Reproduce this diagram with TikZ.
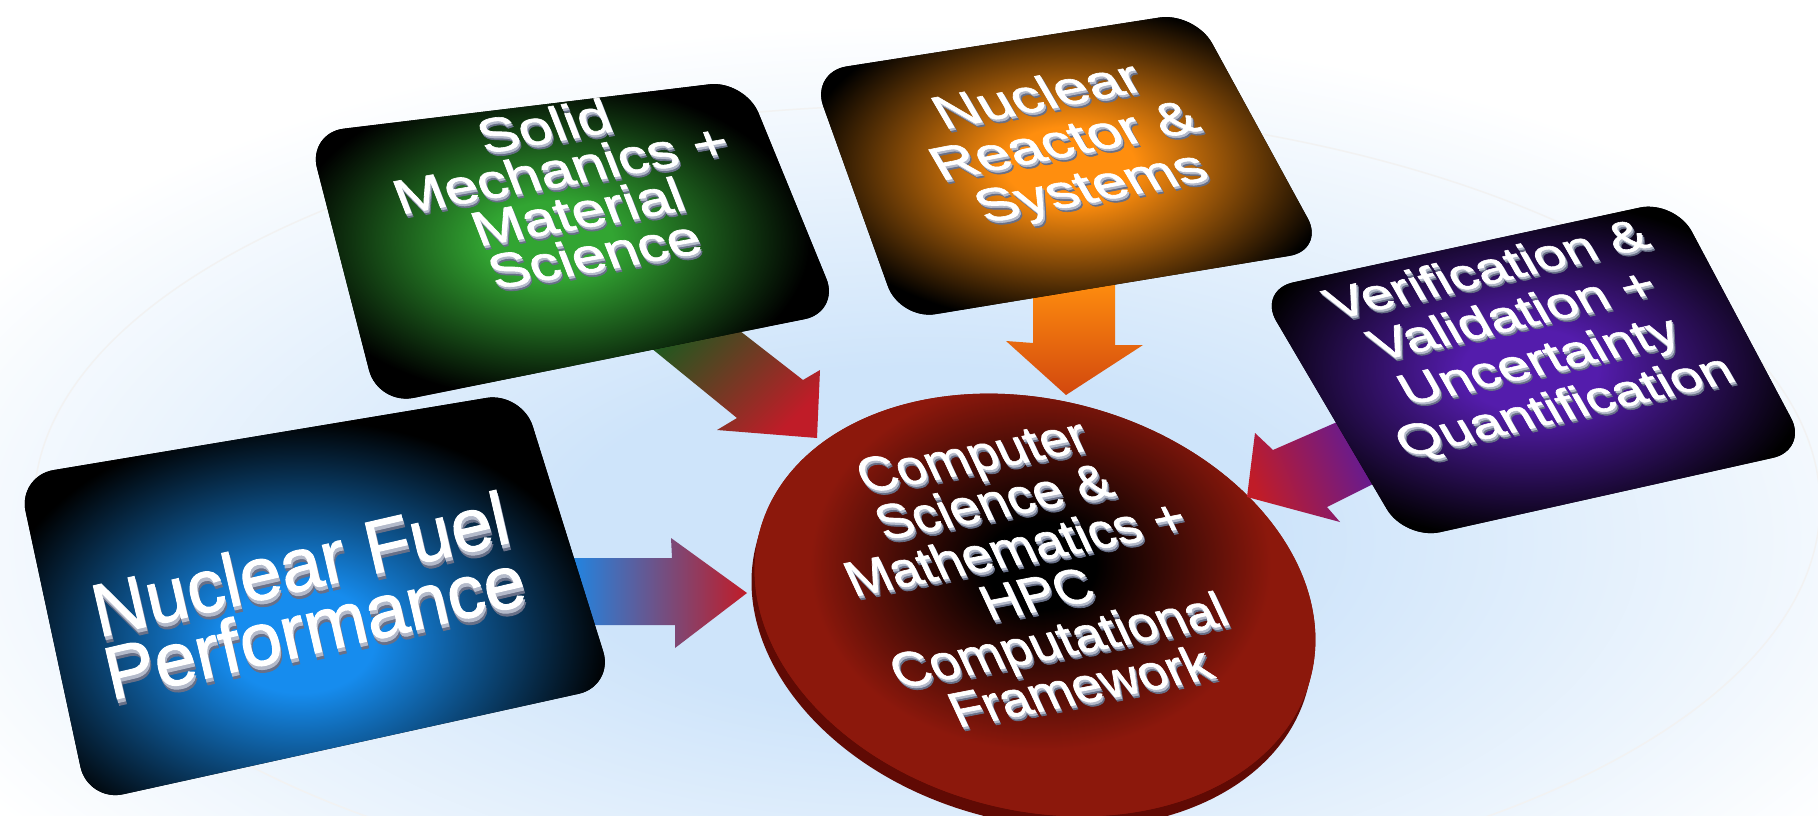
\documentclass[tikz,border=0pt]{standalone}
\usepackage{fontspec}
\setmainfont{Liberation Sans}
\newfontfamily\liftfont{Liberation Sans}[FakeBold=1.3]
\usetikzlibrary{calc}

\definecolor{hazeblue}{RGB}{206,228,250}
\definecolor{liftA}{RGB}{180,186,202}
\definecolor{liftB}{RGB}{104,112,136}
\definecolor{fuelblue}{RGB}{22,140,238}
\definecolor{mechgreen}{RGB}{50,165,50}
\definecolor{reactororange}{RGB}{255,142,14}
\definecolor{vvpurple}{RGB}{84,28,172}
\definecolor{discred}{RGB}{140,24,12}
\definecolor{discrim}{RGB}{96,10,4}
\definecolor{tipred}{RGB}{192,28,40}
\definecolor{bluemid}{RGB}{84,100,192}
\definecolor{arrowgreen}{RGB}{22,92,30}
\definecolor{greenmid}{RGB}{110,70,30}
\definecolor{orangetip}{RGB}{210,72,14}
\definecolor{purplearrow}{RGB}{80,26,170}

\colorlet{glowin}{white}
\colorlet{glowout}{black}
% radial glow with a flat core; 12.5bp is half the radius of the shaded ellipse
\pgfdeclareradialshading[glowin,glowout]{plateau}{\pgfpointorigin}{%
  color(0bp)=(glowin); color(3bp)=(glowin); color(12.5bp)=(glowout); color(50bp)=(glowout)}
% softer, wider glow for the backdrop
\pgfdeclareradialshading[glowin,glowout]{haze}{\pgfpointorigin}{%
  color(0bp)=(glowin); color(5bp)=(glowin); color(15bp)=(glowout); color(50bp)=(glowout)}

% centred stack of lines, rows spaced by \baselineskip
\newcommand\liftstack[1]{\vbox{\let\\\cr\halign{\hfil##\hfil\cr#1\crcr}}}
% white lettering with an extruded grey edge
\newcommand\relief[1]{\leavevmode
  \rlap{\color{liftB}\raisebox{-0.09em}{\kern0.01em\liftstack{#1}}}%
  \rlap{\color{liftA}\raisebox{-0.05em}{\kern0.005em\liftstack{#1}}}%
  {\color{white}\liftstack{#1}}}

% rounded slab with a coloured glow on its face
\newcommand\slab[7]{%
  \begin{scope}
    \clip[rounded corners=36pt] (#1) -- (#2) -- (#3) -- (#4) -- cycle;
    \fill[black] (0,0) rectangle (1818,816);
    \colorlet{glowin}{#5}\colorlet{glowout}{black}
    \shade[shading=plateau] (#6) ellipse (#7);
  \end{scope}}

\tikzset{txtthreed/.style={inner sep=0pt, anchor=center}}

\begin{document}
\begin{tikzpicture}[x=1pt, y=-1pt]
\useasboundingbox (0,0) rectangle (1818,816);

% backdrop haze and faint ring
\fill[white] (0,0) rectangle (1818,816);
\begin{scope}
  \colorlet{glowin}{hazeblue}\colorlet{glowout}{white}
  \shade[shading=haze] (920,540) ellipse (1800 and 860);
\end{scope}
\draw[black!5, line width=1.5pt] (927,505) ellipse (893 and 400);

% slab corners
\coordinate (fuel-nw) at (18,476);   \coordinate (fuel-ne) at (522,392);
\coordinate (fuel-se) at (614,686);  \coordinate (fuel-sw) at (88,802);
\coordinate (mech-nw) at (308,133);  \coordinate (mech-ne) at (745,80);
\coordinate (mech-se) at (840,312);  \coordinate (mech-sw) at (378,405);
\coordinate (reac-nw) at (811,72);   \coordinate (reac-ne) at (1195,12);
\coordinate (reac-se) at (1325,250); \coordinate (reac-sw) at (900,320);
\coordinate (vvuq-nw) at (1258,290); \coordinate (vvuq-ne) at (1675,200);
\coordinate (vvuq-se) at (1808,450); \coordinate (vvuq-sw) at (1405,540);

% central disc
\begin{scope}[shift={(1035,605)}, rotate=-15]
  \fill[discrim] (0,12) ellipse (285 and 205);
  \fill[discred] (0,0) ellipse (285 and 205);
  \clip (0,0) ellipse (285 and 205);
  \colorlet{glowin}{black}\colorlet{glowout}{discred}
  \shade[shading=plateau] (-5,-40) ellipse (430 and 320);
\end{scope}

% block arrows
\coordinate (fa-t0) at (560,558); \coordinate (fa-t1) at (672,558);
\coordinate (fa-h1) at (671,538); \coordinate (fa-tip) at (747,593);
\coordinate (fa-h2) at (675,648); \coordinate (fa-b1) at (675,625);
\coordinate (fa-b0) at (560,625);
\shade[left color=fuelblue, middle color=bluemid, right color=tipred]
  (fa-t0) -- (fa-t1) -- (fa-h1) -- (fa-tip) -- (fa-h2) -- (fa-b1) -- (fa-b0) -- cycle;

\coordinate (ma-l0) at (629,330); \coordinate (ma-l1) at (737,418);
\coordinate (ma-h1) at (717,430); \coordinate (ma-tip) at (817,438);
\coordinate (ma-h2) at (820,370); \coordinate (ma-r1) at (803,380);
\coordinate (ma-r0) at (722,317);
\shade[top color=arrowgreen, middle color=greenmid, bottom color=tipred, shading angle=45]
  (ma-l0) -- (ma-l1) -- (ma-h1) -- (ma-tip) -- (ma-h2) -- (ma-r1) -- (ma-r0) -- cycle;

\coordinate (ra-l0) at (1033,280); \coordinate (ra-l1) at (1033,343);
\coordinate (ra-h1) at (1006,341); \coordinate (ra-tip) at (1066,395);
\coordinate (ra-h2) at (1143,345); \coordinate (ra-r1) at (1115,345);
\coordinate (ra-r0) at (1115,280);
\shade[top color=reactororange, bottom color=orangetip]
  (ra-l0) -- (ra-l1) -- (ra-h1) -- (ra-tip) -- (ra-h2) -- (ra-r1) -- (ra-r0) -- cycle;

\coordinate (va-u0) at (1360,412); \coordinate (va-u1) at (1273,450);
\coordinate (va-h1) at (1255,433); \coordinate (va-tip) at (1247,497);
\coordinate (va-h2) at (1340,522); \coordinate (va-d1) at (1327,507);
\coordinate (va-d0) at (1397,472);
\shade[left color=tipred, right color=purplearrow, shading angle=112]
  (va-u0) -- (va-u1) -- (va-h1) -- (va-tip) -- (va-h2) -- (va-d1) -- (va-d0) -- cycle;

% slabs
\slab{fuel-nw}{fuel-ne}{fuel-se}{fuel-sw}{fuelblue}{300,640}{620 and 440}
\slab{mech-nw}{mech-ne}{mech-se}{mech-sw}{mechgreen}{550,240}{520 and 320}
\slab{reac-nw}{reac-ne}{reac-se}{reac-sw}{reactororange}{1070,165}{540 and 320}
\slab{vvuq-nw}{vvuq-ne}{vvuq-se}{vvuq-sw}{vvpurple}{1530,370}{560 and 340}

% lettering
\node[txtthreed, font=\liftfont\fontsize{75}{64}\selectfont, rotate=13] (fuel) at (308,598)
  {\relief{Nuclear Fuel\\Performance}};
\node[txtthreed, font=\liftfont\fontsize{49}{45}\selectfont, rotate=10, xslant=-0.2, xscale=1.22] (mech) at (570,192)
  {\relief{Solid\\Mechanics +\\Material\\Science}};
\node[txtthreed, font=\liftfont\fontsize{48}{50}\selectfont, rotate=11, xslant=-0.35, xscale=1.25] (reactor) at (1067,146)
  {\relief{Nuclear\\Reactor \&\\Systems}};
\node[txtthreed, font=\liftfont\fontsize{45}{50}\selectfont, rotate=13, xslant=-0.3, xscale=1.24] (vvuq) at (1528,342)
  {\relief{Verification \&\\Validation +\\Uncertainty\\Quantification}};
\node[txtthreed, font=\liftfont\fontsize{50}{49.5}\selectfont, rotate=11, xslant=-0.25, xscale=1.05] (hpc) at (1027,573)
  {\relief{Computer\\Science \&\\Mathematics +\\HPC\\Computational\\Framework}};
\end{tikzpicture}
\end{document}
